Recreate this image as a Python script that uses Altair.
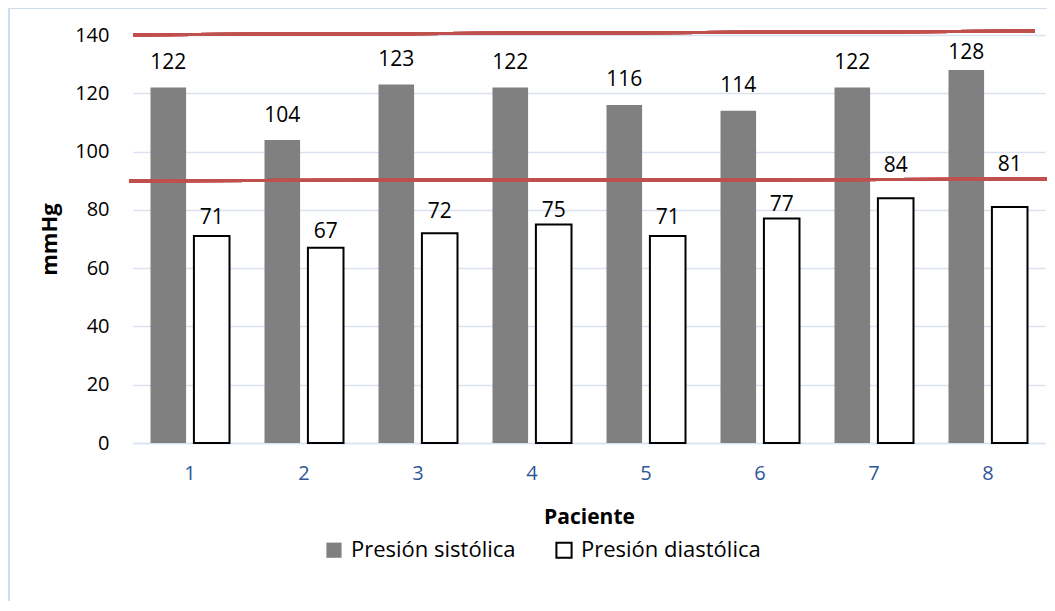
import altair as alt
import pandas as pd

pacientes = ["1", "2", "3", "4", "5", "6", "7", "8"]
sistolica = [122, 104, 123, 122, 116, 114, 122, 128]
diastolica = [71, 67, 72, 75, 71, 77, 84, 81]
series = ["Presión sistólica", "Presión diastólica"]
y_ticks = [0, 20, 40, 60, 80, 100, 120, 140]
# data-label offsets above each bar (mmHg), as placed in the original
ajuste_sis = [6.2, 6.1, 6.4, 6.2, 6.6, 6.3, 6.3, 3.7]
ajuste_dia = [4.2, 3.2, 5.1, 2.7, 4.2, 2.6, 9.0, 12.3]
# reference (threshold) lines as drawn: start value, end value
linea_alta = (140.05, 141.3)
linea_baja = (90.0, 90.5)

rows = []
for p, s, d, a_s, a_d in zip(pacientes, sistolica, diastolica, ajuste_sis, ajuste_dia):
    rows.append({"paciente": p, "serie": series[0], "valor": s, "ajuste": a_s})
    rows.append({"paciente": p, "serie": series[1], "valor": d, "ajuste": a_d})
df = pd.DataFrame(rows)

FONT = "Open Sans"
W, H = 912, 408

x_enc = alt.X("paciente:N", sort=pacientes,
              scale=alt.Scale(paddingInner=0.307, paddingOuter=0.1535),
              axis=alt.Axis(title="Paciente", labelAngle=0, labelColor="#2F5597",
                            labelFontSize=20, labelPadding=20, ticks=False,
                            domain=True, domainColor="#D9E1F2", domainWidth=1.5,
                            titleFontSize=21, titleFontWeight="bold", titlePadding=23,
                            titleColor="black"))
xo_enc = alt.XOffset("serie:N", sort=series, scale=alt.Scale(paddingInner=0.18))
y_enc = alt.Y("valor:Q", scale=alt.Scale(domain=[0, 140], nice=False),
              axis=alt.Axis(title="mmHg", values=y_ticks, labelFontSize=20,
                            labelColor="black", labelPadding=24, ticks=False,
                            domain=False, grid=True, gridColor="#D9E1F2",
                            gridWidth=1.5, titleFontSize=22, titleFontWeight="bold",
                            titleColor="black", titlePadding=13))

leg = alt.Legend(title=None, orient="none", direction="horizontal",
                 legendX=190, legendY=504, symbolType="square",
                 symbolSize=230, symbolStrokeWidth=2,
                 labelFontSize=22, labelColor="black",
                 labelOffset=6, columnPadding=36, labelLimit=400)

base = alt.Chart(df)

bars = base.mark_bar(strokeWidth=2).encode(
    x=x_enc, xOffset=xo_enc, y=y_enc,
    fill=alt.Fill("serie:N", sort=series,
                  scale=alt.Scale(domain=series, range=["#808080", "#ffffff"]),
                  legend=leg),
    stroke=alt.Stroke("serie:N", sort=series,
                      scale=alt.Scale(domain=series, range=["transparent", "#000000"]),
                      legend=leg),
)

labels = base.transform_calculate(
    pos="datum.valor + datum.ajuste"
).mark_text(baseline="alphabetic", fontSize=21, color="black").encode(
    x=alt.X("paciente:N", sort=pacientes), xOffset=alt.XOffset("serie:N", sort=series),
    y=alt.Y("pos:Q"), text=alt.Text("valor:Q"),
)

rule_alta = alt.Chart(df).mark_rule(color="#C0504D", strokeWidth=3).encode(
    x=alt.value(0), x2=alt.value(902),
    y=alt.datum(linea_alta[0]), y2=alt.datum(linea_alta[1]),
)
rule_baja = alt.Chart(df).mark_rule(color="#C0504D", strokeWidth=3).encode(
    x=alt.value(-4), x2=alt.value(930),
    y=alt.datum(linea_baja[0]), y2=alt.datum(linea_baja[1]),
)

border = alt.Chart(df).mark_rect(fill=None, stroke="#D0DDEF", strokeWidth=1.5).encode(
    x=alt.value(-124), x2=alt.value(1000), y=alt.value(-27), y2=alt.value(700),
)

chart = alt.layer(border, bars, labels, rule_alta, rule_baja).properties(
    width=W, height=H,
    padding={"left": 125, "top": 27, "right": 2, "bottom": 158},
    autosize=alt.AutoSizeParams(type="none"),
).configure(font=FONT).configure_view(stroke=None)

chart.save("out.html", embed_options={"renderer": "svg", "actions": False})
